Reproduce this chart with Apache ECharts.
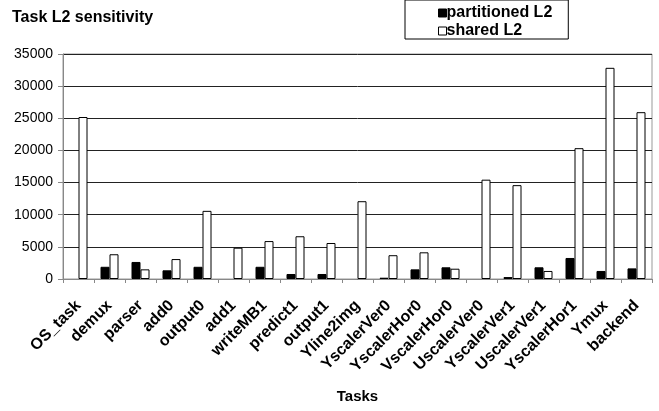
<!DOCTYPE html>
<html>
<head>
<meta charset="utf-8">
<script src="https://cdn.jsdelivr.net/npm/echarts@6/dist/echarts.min.js"></script>
<style>html,body{margin:0;padding:0;background:#fff}#c{width:659px;height:411px}</style>
</head>
<body>
<div id="c"></div>
<script>
const categories = ['OS_task','demux','parser','add0','output0','add1','writeMB1','predict1','output1','Yline2img','YscalerVer0','YscalerHor0','VscalerHor0','UscalerVer0','YscalerVer1','UscalerVer1','YscalerHor1','Ymux','backend'];
const partitioned = [0,1900,2650,1350,1900,0,1900,780,780,0,200,1500,1820,0,300,1820,3270,1250,1650];
const shared = [25200,3850,1500,3100,10600,4870,5900,6650,5600,12100,3700,4150,1600,15450,14600,1250,20350,32850,25950];
const yTicks = {min:0, max:35000, interval:5000};
const FONT = '"Liberation Sans", Arial, sans-serif';
const nz = v => (v === 0 ? '-' : v);

const chart = echarts.init(document.getElementById('c'), null, {renderer:'canvas'});
chart.setOption({
  animation:false,
  backgroundColor:'#fff',
  title:{text:'Task L2 sensitivity', left:7, top:5, textStyle:{fontFamily:FONT, fontSize:16, fontWeight:'bold', color:'#000'}},
  legend:{
    orient:'vertical', left:405, top:0,
    itemWidth:8, itemHeight:8, itemGap:2,
    padding:[5,16,0,33],
    borderColor:'#000', borderWidth:1,
    textStyle:{fontFamily:FONT, fontSize:16, fontWeight:'bold', color:'#000', padding:[0,0,0,-5]},
    data:[
      {name:'partitioned L2', icon:'rect', itemStyle:{color:'#000', borderColor:'#000', borderWidth:1}},
      {name:'shared L2', icon:'rect', itemStyle:{color:'#fff', borderColor:'#000', borderWidth:1}}
    ]
  },
  grid:{left:63, right:7, top:54, bottom:132, show:true, borderColor:'#999', borderWidth:1},
  xAxis:{
    type:'category', data:categories,
    name:'Tasks', nameLocation:'middle', nameGap:110,
    nameTextStyle:{fontFamily:FONT, fontSize:15, fontWeight:'bold', color:'#000'},
    axisLine:{lineStyle:{color:'#888', width:1}},
    axisTick:{show:true, length:4, lineStyle:{color:'#888'}},
    axisLabel:{interval:0, rotate:45, margin:24, fontFamily:FONT, fontSize:16, fontWeight:'bold', color:'#000'}
  },
  yAxis:{
    type:'value', min:yTicks.min, max:yTicks.max, interval:yTicks.interval,
    axisLine:{show:true, lineStyle:{color:'#888', width:1}},
    axisTick:{show:true, length:5, lineStyle:{color:'#888'}},
    axisLabel:{margin:10, fontFamily:FONT, fontSize:14, color:'#000', formatter: v => String(v)},
    splitLine:{lineStyle:{color:'#222', width:1}}
  },
  series:[
    {name:'partitioned L2', type:'bar', data:partitioned.map(nz), barWidth:9, barGap:'0%',
     itemStyle:{color:'#000', borderColor:'#000', borderWidth:1}},
    {name:'shared L2', type:'bar', data:shared.map(nz), barWidth:9, barGap:'0%',
     itemStyle:{color:'#fff', borderColor:'#000', borderWidth:1}}
  ]
});
</script>
</body>
</html>
